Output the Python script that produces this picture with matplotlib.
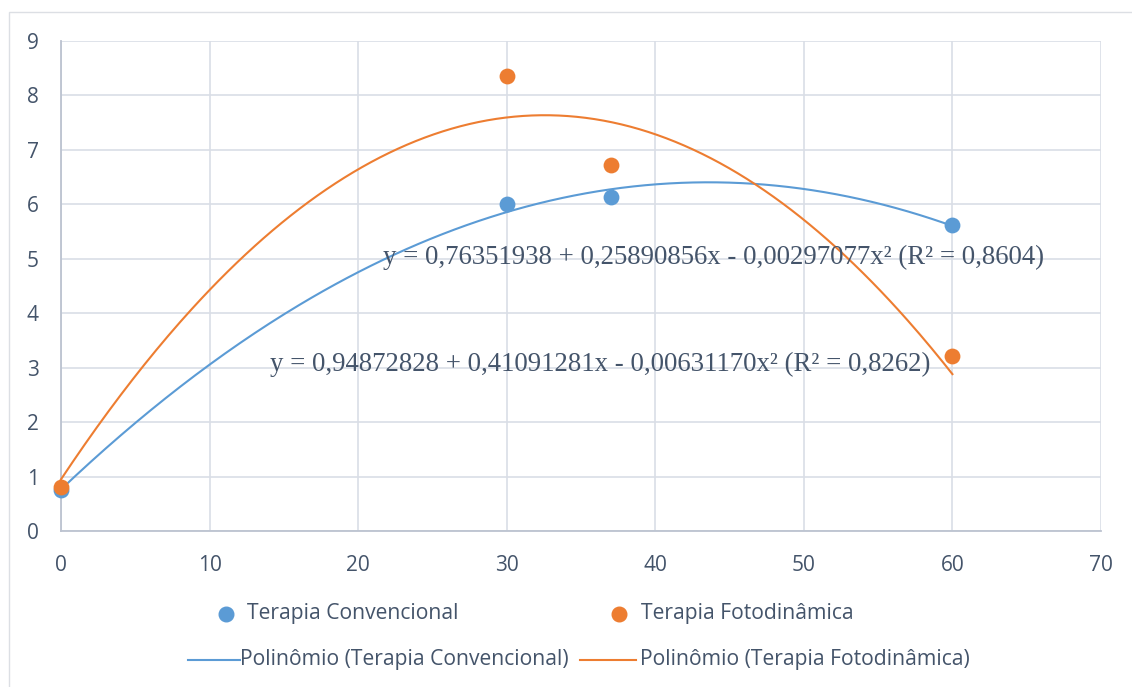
import numpy as np
import matplotlib
matplotlib.use("Agg")
import matplotlib.pyplot as plt
from matplotlib.lines import Line2D
from matplotlib.patches import Rectangle

# Data
x_conv = [0, 30, 37, 60]
y_conv = [0.75, 6.0, 6.13, 5.62]
x_foto = [0, 30, 37, 60]
y_foto = [0.80, 8.35, 6.73, 3.22]

# Trendline coefficients (c0, c1, c2) as printed on the chart
coef_conv = [0.76351938, 0.25890856, -0.00297077]
coef_foto = [0.94872828, 0.41091281, -0.00631170]
r2_conv = "0,8604"
r2_foto = "0,8262"

x_ticks = [0, 10, 20, 30, 40, 50, 60, 70]
y_ticks = [0, 1, 2, 3, 4, 5, 6, 7, 8, 9]

label_conv = "Terapia Convencional"
label_foto = "Terapia Fotodinâmica"
label_pconv = "Polinômio (Terapia Convencional)"
label_pfoto = "Polinômio (Terapia Fotodinâmica)"

BLUE = "#5B9BD5"
ORANGE = "#ED7D31"
TXT = "#44546A"
GRID = "#D9DEE6"
SPINE = "#BCC3D0"

W, H = 1132, 687
fig = plt.figure(figsize=(W / 100, H / 100), dpi=100)
ax = fig.add_axes([61 / W, 1 - 531 / H, (1101 - 61) / W, (531 - 41) / H])

# outer frame (only top and left edges visible)
fig.patches.append(Rectangle((9 / W, -0.05), 1.0, 1 - 12 / H + 0.05,
                             transform=fig.transFigure, fill=False,
                             edgecolor="#DCDFE4", linewidth=1.0))

ax.set_xlim(0, 70)
ax.set_ylim(0, 9)
ax.set_xticks(x_ticks)
ax.set_yticks(y_ticks)
ax.grid(True, color=GRID, linewidth=1.2)
ax.set_axisbelow(True)
for s in ["top", "right"]:
    ax.spines[s].set_visible(False)
for s in ["left", "bottom"]:
    ax.spines[s].set_color(SPINE)
    ax.spines[s].set_linewidth(1.3)
ax.tick_params(length=0, labelsize=15, labelcolor=TXT)
ax.tick_params(axis="x", pad=17)
ax.tick_params(axis="y", pad=16)
for lab in ax.get_xticklabels() + ax.get_yticklabels():
    lab.set_fontfamily("Open Sans")

xs = np.linspace(0, 60, 300)
ax.plot(xs, np.polyval(coef_conv[::-1], xs), color=BLUE, lw=1.5, zorder=3, clip_on=False)
ax.plot(xs, np.polyval(coef_foto[::-1], xs), color=ORANGE, lw=1.5, zorder=3, clip_on=False)
ax.scatter(x_conv, y_conv, s=130, color=BLUE, zorder=4, clip_on=False, linewidths=0)
ax.scatter(x_foto, y_foto, s=130, color=ORANGE, zorder=5, clip_on=False, linewidths=0)

def fmt(v):
    return ("%.8f" % abs(v)).replace(".", ",")

eq_conv = "y = %s + %sx - %sx² (R² = %s)" % (fmt(coef_conv[0]), fmt(coef_conv[1]), fmt(coef_conv[2]), r2_conv)
eq_foto = "y = %s + %sx - %sx² (R² = %s)" % (fmt(coef_foto[0]), fmt(coef_foto[1]), fmt(coef_foto[2]), r2_foto)
fig.text(383 / W, 1 - 257 / H, eq_conv, family="Liberation Serif", fontsize=19.3,
         color=TXT, va="center", ha="left")
fig.text(270 / W, 1 - 364 / H, eq_foto, family="Liberation Serif", fontsize=19.3,
         color=TXT, va="center", ha="left")

# Legend (manual)
def ft(x, y, s):
    fig.text(x / W, 1 - y / H, s, family="Open Sans", fontsize=15.2, color=TXT,
             va="center", ha="left")

fig.add_artist(Line2D([226 / W], [1 - 614 / H], marker="o", markersize=10.5,
                      color=BLUE, linestyle="none", transform=fig.transFigure))
ft(247, 614, label_conv)
fig.add_artist(Line2D([619 / W], [1 - 614 / H], marker="o", markersize=10.5,
                      color=ORANGE, linestyle="none", transform=fig.transFigure))
ft(641, 614, label_foto)
fig.add_artist(Line2D([188 / W, 240 / W], [1 - 660 / H] * 2, color=BLUE, lw=1.5,
                      transform=fig.transFigure))
ft(240, 660, label_pconv)
fig.add_artist(Line2D([580 / W, 636 / W], [1 - 660 / H] * 2, color=ORANGE, lw=1.5,
                      transform=fig.transFigure))
ft(640, 660, label_pfoto)

fig.savefig("out.png", dpi=100)
